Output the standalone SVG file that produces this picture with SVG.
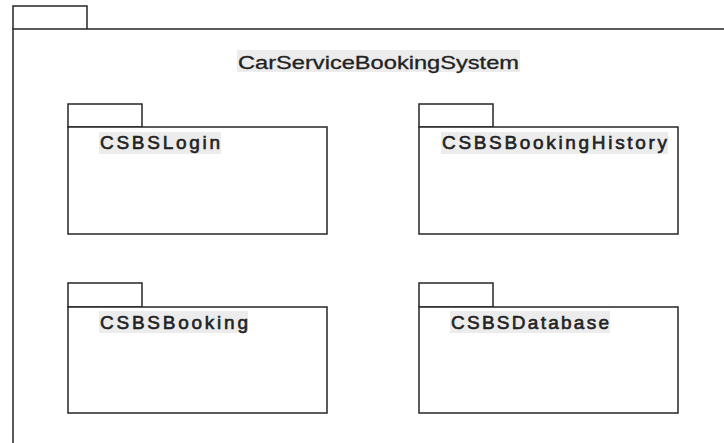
<svg xmlns="http://www.w3.org/2000/svg" width="724" height="443" viewBox="0 0 724 443">
<style>
.pk{fill:#fff;stroke:#262626;stroke-width:1.5}
.hl{fill:#ececec}
.lbl{font-family:"Liberation Sans",Arial,sans-serif;font-size:19px;fill:#222;stroke:#222;stroke-width:0.6}
.ttl{font-family:"Liberation Sans",Arial,sans-serif;font-size:18.5px;fill:#222;stroke:#222;stroke-width:0.3}
</style>
<rect width="724" height="443" fill="#fff"/>
<g id="CarServiceBookingSystem">
<path class="pk" d="M13,29 V6 H87 V29"/>
<path class="pk" d="M13,450 V29 H730"/>
<rect class="hl" x="237" y="50" width="283" height="22"/>
<text class="ttl" x="238" y="68.5" textLength="281" lengthAdjust="spacingAndGlyphs">CarServiceBookingSystem</text>
</g>
<g id="CSBSLogin">
<rect class="pk" x="68" y="104" width="74" height="23"/>
<rect class="pk" x="68" y="127" width="259" height="107"/>
<rect class="hl" x="99" y="132" width="122" height="22"/>
<text class="lbl" x="100" y="149" textLength="120" lengthAdjust="spacing">CSBSLogin</text>
</g>
<g id="CSBSBookingHistory">
<rect class="pk" x="419" y="104" width="74" height="23"/>
<rect class="pk" x="419" y="127" width="259" height="107"/>
<rect class="hl" x="441" y="132" width="227" height="22"/>
<text class="lbl" x="442" y="149" textLength="225" lengthAdjust="spacing">CSBSBookingHistory</text>
</g>
<g id="CSBSBooking">
<rect class="pk" x="68" y="283" width="74" height="24"/>
<rect class="pk" x="68" y="307" width="259" height="106"/>
<rect class="hl" x="99" y="311" width="149" height="22"/>
<text class="lbl" x="100" y="328.5" textLength="148" lengthAdjust="spacing">CSBSBooking</text>
</g>
<g id="CSBSDatabase">
<rect class="pk" x="419" y="283" width="74" height="24"/>
<rect class="pk" x="419" y="307" width="259" height="106"/>
<rect class="hl" x="450" y="311" width="160" height="22"/>
<text class="lbl" x="451" y="328.5" textLength="158" lengthAdjust="spacing">CSBSDatabase</text>
</g>
<g id="connectors"/>
</svg>
